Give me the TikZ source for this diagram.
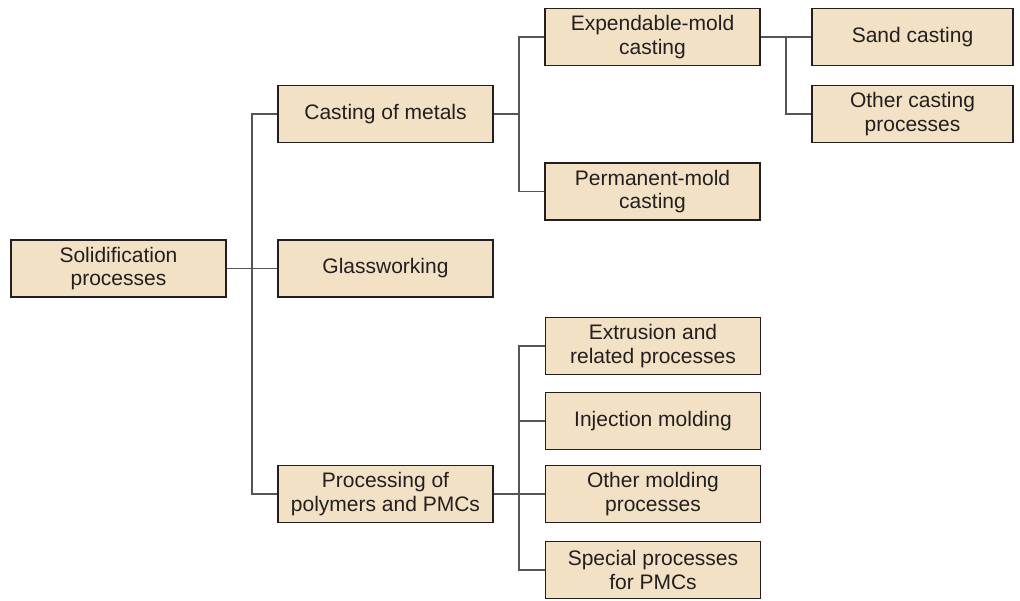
\documentclass[tikz,border=0pt]{standalone}
\usepackage{fontspec}
\setmainfont{Liberation Sans}
\definecolor{boxfill}{RGB}{242,225,196}
\definecolor{boxline}{RGB}{35,31,32}
\definecolor{linkgray}{RGB}{85,85,85}
\tikzset{
  procbox/.style={draw=boxline, fill=boxfill, line width=1.6pt, minimum width=215pt,
    minimum height=57pt, align=center, text=boxline, inner sep=0pt,
    font=\fontsize{21}{23.5}\selectfont},
  link/.style={draw=linkgray, line width=1.1pt}
}
\begin{document}
\begin{tikzpicture}[x=1pt, y=-1pt]
                \useasboundingbox (0,0) rectangle (1020,600);

                % Level 0
                \node[procbox] (solid) at (118.5, 268.5) {Solidification\\processes};

                % Level 1
                \node[procbox] (cast) at (385.5, 114) {Casting of metals};
                \node[procbox] (glass) at (385.5, 268.5) {Glassworking};
                \node[procbox] (poly) at (385.5, 494) {Processing of\\polymers and PMCs};

                % Level 2 - casting
                \node[procbox] (expend) at (652.5, 37) {Expendable-mold\\casting};
                \node[procbox] (perm) at (652.5, 191.5) {Permanent-mold\\casting};

                % Level 3 - expendable mold
                \node[procbox, minimum width=201pt] (sand) at (912.5, 37) {Sand casting};
                \node[procbox, minimum width=201pt] (othercast) at (912.5, 114) {Other casting\\processes};

                % Level 2 - polymers
                \node[procbox] (extr) at (653, 346) {Extrusion and\\related processes};
                \node[procbox] (inj) at (653, 421) {Injection molding};
                \node[procbox] (othermold) at (653, 494) {Other molding\\processes};
                \node[procbox] (special) at (653, 570) {Special processes\\for PMCs};

                % Junctions
                \coordinate (j1) at (252, 268.5);
                \coordinate (j2) at (519, 114);
                \coordinate (j3) at (786, 37);
                \coordinate (j4) at (519, 494);

                % Connectors
                \draw[link] (solid.east) -- (glass.west);
                \draw[link] (j1) |- (cast.west);
                \draw[link] (j1) |- (poly.west);

                \draw[link] (cast.east) -- (j2);
                \draw[link] (j2) |- (expend.west);
                \draw[link] (j2) |- (perm.west);

                \draw[link] (expend.east) -- (sand.west);
                \draw[link] (j3) |- (othercast.west);

                \draw[link] (poly.east) -- (othermold.west);
                \draw[link] (j4) |- (extr.west);
                \draw[link] (j4) |- (inj.west);
                \draw[link] (j4) |- (special.west);
            \end{tikzpicture}
\end{document}
